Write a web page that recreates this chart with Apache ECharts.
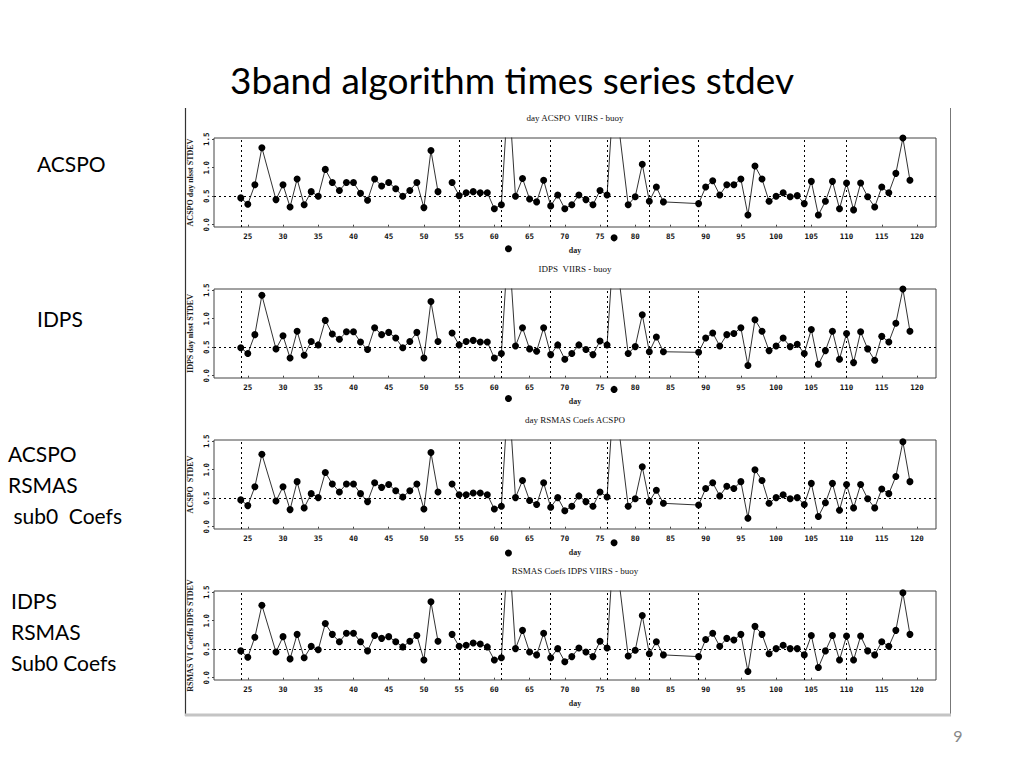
<!DOCTYPE html>
<html>
<head>
<meta charset="utf-8">
<script src="https://cdn.jsdelivr.net/npm/echarts@6/dist/echarts.min.js"></script>
<style>
html,body{margin:0;padding:0;background:#fff;}
#main{width:1024px;height:768px;}
</style>
</head>
<body>
<div id="main"></div>
<script>
// ---- data ----
const days = [24,25,26,27,29,30,31,32,33,34,35,36,37,38,39,40,41,42,43,44,45,46,47,48,49,50,51,52,53,54,55,56,57,58,59,60,61,62,63,64,65,66,67,68,69,70,71,72,73,74,75,76,77,79,80,81,82,83,84,89,90,91,92,93,94,95,96,97,98,99,100,101,102,103,104,105,106,107,108,109,110,111,112,113,114,115,116,117,118,119];

const acspoStd = [0.47,0.36,0.70,1.35,0.44,0.70,0.31,0.80,0.35,0.58,0.50,0.97,0.74,0.60,0.74,0.74,0.55,0.43,0.80,0.68,0.74,0.63,0.50,0.60,0.74,0.30,1.30,0.58,null,0.74,0.51,0.56,0.58,0.56,0.56,0.28,0.35,2.4,0.50,0.81,0.45,0.40,0.78,0.33,0.52,0.28,0.35,0.52,0.44,0.35,0.60,0.52,2.4,0.35,0.49,1.06,0.41,0.66,0.40,0.37,0.66,0.77,0.52,0.70,0.70,0.80,0.17,1.03,0.80,0.41,0.50,0.56,0.49,0.51,0.37,0.76,0.17,0.41,0.76,0.28,0.73,0.26,0.73,0.49,0.31,0.66,0.56,0.90,1.52,0.78];

const idpsStd = [0.49,0.39,0.72,1.41,0.47,0.70,0.31,0.78,0.36,0.60,0.54,0.97,0.73,0.64,0.77,0.77,0.59,0.46,0.84,0.72,0.76,0.66,0.49,0.60,0.76,0.31,1.30,0.60,null,0.75,0.54,0.60,0.62,0.59,0.59,0.31,0.39,2.4,0.52,0.84,0.47,0.43,0.84,0.37,0.54,0.29,0.39,0.54,0.46,0.37,0.61,0.54,2.4,0.39,0.51,1.07,0.42,0.68,0.42,0.41,0.66,0.75,0.52,0.72,0.74,0.84,0.18,0.98,0.78,0.44,0.52,0.66,0.51,0.55,0.39,0.81,0.20,0.44,0.78,0.29,0.74,0.23,0.77,0.47,0.27,0.69,0.59,0.92,1.52,0.78];

const rsmasAcspoStd = [0.47,0.37,0.70,1.27,0.45,0.70,0.30,0.79,0.33,0.58,0.51,0.95,0.75,0.61,0.75,0.75,0.58,0.44,0.77,0.69,0.74,0.63,0.52,0.63,0.75,0.31,1.30,0.61,null,0.75,0.56,0.56,0.59,0.59,0.56,0.31,0.36,2.4,0.51,0.81,0.46,0.39,0.77,0.34,0.51,0.28,0.36,0.54,0.44,0.36,0.61,0.52,2.4,0.36,0.49,1.05,0.44,0.64,0.41,0.38,0.67,0.77,0.54,0.71,0.67,0.79,0.15,1.00,0.81,0.41,0.51,0.56,0.49,0.51,0.39,0.76,0.18,0.42,0.76,0.29,0.74,0.33,0.74,0.49,0.33,0.66,0.58,0.88,1.49,0.79];

const rsmasIdpsStd = [0.47,0.36,0.71,1.27,0.45,0.72,0.33,0.76,0.35,0.55,0.49,0.95,0.76,0.63,0.78,0.78,0.63,0.47,0.74,0.69,0.72,0.63,0.54,0.64,0.74,0.31,1.33,0.64,null,0.76,0.55,0.57,0.61,0.59,0.54,0.31,0.35,2.4,0.51,0.83,0.45,0.40,0.78,0.35,0.51,0.28,0.37,0.52,0.45,0.37,0.64,0.52,2.4,0.38,0.48,1.09,0.42,0.63,0.40,0.37,0.67,0.78,0.55,0.69,0.66,0.76,0.11,0.90,0.76,0.42,0.51,0.57,0.51,0.51,0.40,0.74,0.18,0.47,0.74,0.31,0.73,0.31,0.73,0.47,0.40,0.63,0.55,0.83,1.49,0.76];

// stray markers drawn below the axis for the off-scale days
const offscale1 = [[62,-0.42],[77,-0.23]];
const offscale2 = [[62,-0.40],[77,-0.24]];
const offscale3 = [[62,-0.46],[77,-0.28]];
const offscale4 = [];

const refDays = [24,55,61,68,76,82,89,104,110];
const refLevel = 0.5;
const xTicks = [25,30,35,40,45,50,55,60,65,70,75,80,85,90,95,100,105,110,115,120];
const yTicks = [0,0.5,1,1.5];

const panelTitles = ['day ACSPO  VIIRS - buoy','IDPS  VIIRS - buoy','day RSMAS Coefs ACSPO','RSMAS Coefs IDPS VIIRS - buoy'];
const yNames = ['ACSPO day nlsst STDEV','IDPS day nlsst STDEV','ACSPO  STDEV','RSMAS V1 Coeffs IDPS STDEV'];
const sideLabels = ['ACSPO','IDPS','ACSPO\nRSMAS\n sub0  Coefs','IDPS\nRSMAS\nSub0 Coefs'];
const mainTitle = '3band algorithm times series stdev';
const pageNo = '9';

// ---- build ----
const panels = [acspoStd, idpsStd, rsmasAcspoStd, rsmasIdpsStd];
const offs = [offscale1, offscale2, offscale3, offscale4];
const tops = [138, 289, 440, 591];
const GL = 214, GW = 722, GH = 89;

const grid = [], xAxis = [], yAxis = [], series = [], graphic = [];
const tickFont = {fontFamily:'DejaVu Sans Mono', fontSize:7.5, fontWeight:'bold', color:'#111'};

panels.forEach((vals, i) => {
  grid.push({left:GL, top:tops[i], width:GW, height:GH, show:true, borderColor:'#444', borderWidth:1, backgroundColor:'transparent'});
  xAxis.push({type:'value', gridIndex:i, min:20.2, max:122.7,
    name:'day', nameLocation:'middle', nameGap:19,
    nameTextStyle:{fontFamily:'Liberation Serif', fontSize:8, fontWeight:'bold', color:'#222'},
    axisLine:{show:false}, splitLine:{show:false},
    axisTick:{show:true, length:2, customValues:xTicks, lineStyle:{color:'#444'}},
    axisLabel:Object.assign({margin:5, customValues:xTicks}, tickFont)});
  yAxis.push({type:'value', gridIndex:i, min:-0.04, max:1.52,
    name:yNames[i], nameLocation:'middle', nameRotate:90, nameGap:18,
    nameTextStyle:{fontFamily:'Liberation Serif', fontSize:8, fontWeight:'bold', color:'#222'},
    axisLine:{show:false}, splitLine:{show:false},
    axisTick:{show:true, length:2, customValues:yTicks, lineStyle:{color:'#444'}},
    axisLabel:Object.assign({margin:4, rotate:90, customValues:yTicks, formatter:v=>v.toFixed(1)}, tickFont)});
  series.push({type:'line', xAxisIndex:i, yAxisIndex:i, clip:true, connectNulls:false,
    data: days.map((d,k)=>[d, vals[k]==null ? '-' : vals[k]]),
    symbol:'circle', symbolSize:7, showSymbol:true,
    itemStyle:{color:'#000', opacity:1}, lineStyle:{color:'#333', width:1},
    emphasis:{disabled:true}, animation:false,
    markLine:{silent:true, symbol:['none','none'], label:{show:false},
      lineStyle:{type:[2,3], color:'#000', width:1},
      data: refDays.map(d=>({xAxis:d})).concat([{yAxis:refLevel}])}
  });
  series.push({type:'scatter', xAxisIndex:i, yAxisIndex:i, clip:false, data:offs[i],
    symbolSize:7, itemStyle:{color:'#000', opacity:1}, emphasis:{disabled:true}, animation:false});
  graphic.push({type:'text', x:GL+GW/2, y:tops[i]-20,
    style:{text:panelTitles[i], font:'9px "Liberation Serif"', fill:'#111', align:'center', verticalAlign:'middle'}});
});

graphic.push({type:'text', x:512, y:79, style:{text:mainTitle, font:'37px Lato', fill:'#000', align:'center', verticalAlign:'middle'}});
const sidePos = [[37,165],[37,320],[8,455],[11,602]];
sideLabels.forEach((t,i)=>{
  graphic.push({type:'text', x:sidePos[i][0], y:sidePos[i][1]-17,
    style:{text:t, font:'21px Lato', fill:'#000', align:'left', verticalAlign:'top', lineHeight:31}});
});
graphic.push({type:'text', x:958, y:735, style:{text:pageNo, font:'16px Lato', fill:'#888', align:'center', verticalAlign:'middle'}});
// frame of the pasted picture
graphic.push({type:'line', shape:{x1:185.5,y1:108,x2:185.5,y2:716}, style:{stroke:'#333', lineWidth:1.2}});
graphic.push({type:'line', shape:{x1:950.5,y1:108,x2:950.5,y2:716}, style:{stroke:'#777', lineWidth:1}});
graphic.push({type:'line', shape:{x1:185,y1:715,x2:951,y2:715}, style:{stroke:'#c4c4c4', lineWidth:3}});

const chart = echarts.init(document.getElementById('main'), null, {renderer:'svg'});
chart.setOption({animation:false, backgroundColor:'#fff', grid, xAxis, yAxis, series, graphic});
</script>
</body>
</html>
